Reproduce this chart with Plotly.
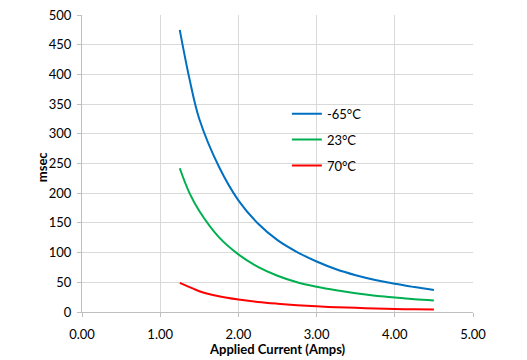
import plotly.graph_objects as go

current = [1.25, 1.375, 1.5, 1.75, 2.0, 2.25, 2.5, 2.75, 3.0, 3.25, 3.5, 3.75, 4.0, 4.25, 4.5]
msec_m65 = [475, 392, 325, 245, 188, 149, 121, 101, 85, 72, 62, 54, 47.5, 42, 37]
msec_23 = [242, 200, 170, 126, 97, 76, 61, 50, 42.5, 36.5, 31.5, 27.5, 24.5, 21.5, 19.5]
msec_70 = [49, 42, 35, 26.5, 21, 17, 14, 11.5, 9.5, 8, 7, 6, 5, 4.5, 4]

x_ticks = [0, 1, 2, 3, 4, 5]
x_tick_labels = ["0.00", "1.00", "2.00", "3.00", "4.00", "5.00"]

series = [("-65°C", msec_m65, "#0070C0"), ("23°C", msec_23, "#00B050"), ("70°C", msec_70, "#FF0000")]

fig = go.Figure()
for i, (name, vals, color) in enumerate(series):
    fig.add_trace(go.Scatter(x=current, y=vals, mode="lines", name=name,
                             legendgroup=f"g{i}",
                             line=dict(color=color, width=2, shape="spline")))

font_family = "Lato, Open Sans, sans-serif"
axis_common = dict(showgrid=True, gridcolor="#d9d9d9", gridwidth=1,
                   showline=True, linecolor="#bfbfbf", linewidth=1,
                   ticks="outside", ticklen=4, tickcolor="#bfbfbf",
                   zeroline=False, automargin=False,
                   ticklabeloverflow="allow",
                   tickfont=dict(size=13, color="#000000"))

fig.update_layout(
    width=511, height=352,
    margin=dict(l=74, r=46, t=7, b=48, pad=0),
    paper_bgcolor="white", plot_bgcolor="white",
    font=dict(family=font_family, size=13, color="black"),
    showlegend=True,
    legend=dict(x=0.524, y=0.718, xanchor="left", yanchor="top",
                bgcolor="rgba(0,0,0,0)", font=dict(size=13),
                tracegroupgap=6),
    xaxis=dict(range=[0, 5], tickvals=x_ticks, ticktext=x_tick_labels,
               ticklabelstandoff=6, **axis_common),
    yaxis=dict(range=[0, 500], dtick=50, tick0=0,
               ticklabelstandoff=3, **axis_common),
    annotations=[
        dict(text="<b>Applied Current (Amps)</b>", xref="paper", yref="paper",
             x=0.501, y=-0.125, xanchor="center", yanchor="middle",
             showarrow=False, font=dict(size=13)),
        dict(text="<b>msec</b>", xref="paper", yref="paper",
             x=-0.102, y=0.488, xanchor="center", yanchor="middle",
             textangle=-90, showarrow=False, font=dict(size=13)),
    ],
)

fig.write_html("out.html")
